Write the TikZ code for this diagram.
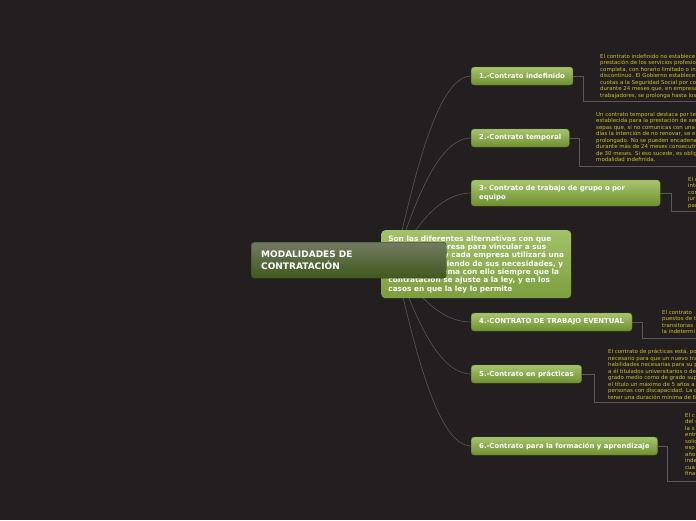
\documentclass[tikz,border=0pt]{standalone}
\usepackage{fontspec}
\setmainfont{DejaVu Sans}
\usepackage{tikz}
\usetikzlibrary{positioning, calc}
\definecolor{canvas}{HTML}{231F20}
\definecolor{wire}{HTML}{5C5854}
\definecolor{leaftop}{HTML}{A8C56E}
\definecolor{leafbot}{HTML}{6E902F}
\definecolor{roottop}{HTML}{737A62}
\definecolor{rootbot}{HTML}{3E591C}
\definecolor{notetop}{HTML}{A2C269}
\definecolor{notebot}{HTML}{7D9E3E}
\definecolor{notetext}{HTML}{CFC416}
\tikzset{
  root/.style={
    rounded corners=3pt,
    top color=roottop, bottom color=rootbot,
    draw=rootbot!80!black, line width=0.4pt,
    text=white, align=left, anchor=north west,
    minimum width=195, minimum height=36,
    text width=175, inner xsep=10, inner ysep=0,
    font=\fontsize{9}{12}\selectfont\bfseries
  },
  summary/.style={
    rounded corners=4pt,
    top color=notetop, bottom color=notebot,
    text=white, align=left, anchor=north west,
    minimum width=190, minimum height=68,
    inner xsep=5, inner ysep=4,
    font=\fontsize{7.35}{8.3}\selectfont\bfseries
  },
  leaf/.style={
    rounded corners=3pt,
    top color=leaftop, bottom color=leafbot,
    draw=leafbot!85!black, line width=0.4pt,
    text=white, align=left, anchor=west,
    minimum height=18, inner xsep=8, inner ysep=2,
    font=\fontsize{6.9}{9}\selectfont\bfseries
  },
  note/.style={
    text=notetext, align=left, anchor=north west,
    inner sep=0, font=\fontsize{5.45}{6.5}\selectfont
  },
  branch/.style={draw=wire, line width=0.6},
  link/.style={draw=wire, line width=0.6}
}

\begin{document}
\begin{tikzpicture}[x=1pt, y=-1pt]
  % Canvas
  \fill[canvas] (0,0) rectangle (696,520);
  \clip (0,0) rectangle (696,520);

  % Branches
  \node[leaf] (b1) at (471, 76) {1.-Contrato indefinido};
  \node[leaf, minimum height=26, text width=173] (b3) at (471, 193) {3- Contrato de trabajo de grupo o por\\equipo};
  \node[leaf] (b2) at (471, 138) {2.-Contrato temporal};
  \node[leaf] (b4) at (471, 322) {4.-CONTRATO DE TRABAJO EVENTUAL};
  \node[leaf] (b5) at (471, 374) {5.-Contrato en prácticas};
  \node[leaf] (b6) at (471, 446) {6.-Contrato para la formación y aprendizaje};

  % Curves from the centre
  \coordinate (hub) at (392, 262);
  \foreach \b in {b1, b2, b3, b4, b5, b6} {
    \draw[branch] (hub) .. controls ($(hub) + (8,0)$ |- \b.west) and ($(\b.west) + (-45,0)$) .. (\b.west);
  }

  % Notes
  \node[note] (n1) at (600, 54) {El contrato indefinido no establece\\
    prestación de los servicios profesionales\\
    completa, con horario limitado o in\\
    discontinuo. El Gobierno establece\\
    cuotas a la Seguridad Social por co\\
    durante 24 meses que, en empresas\\
    trabajadores, se prolonga hasta los};
  \node[note] (n2) at (596, 112) {Un contrato temporal destaca por te\\
    establecida para la prestación de ser\\
    sepas que, si no comunicas con una\\
    días la intención de no renovar, se e\\
    prolongado. No se pueden encadenar\\
    durante más de 24 meses consecutivos\\
    de 30 meses. Si eso sucede, es obligatorio\\
    modalidad indefinida.};
  \node[note] (n3) at (688, 177) {El c\\inte\\con\\jur\\par};
  \node[note] (n4) at (662, 310) {El contrato\\puestos de t\\transitorias\\la indetermi};
  \node[note] (n5) at (608, 349) {El contrato de prácticas está, po\\
    necesario para que un nuevo tra\\
    habilidades necesarias para su p\\
    a él titulados universitarios o de\\
    grado medio como de grado sup\\
    el título un máximo de 5 años a\\
    personas con discapacidad. La d\\
    tener una duración mínima de 6};
  \node[note] (n6) at (685, 413) {El c\\del c\\la s\\entr\\solic\\esp\\año\\inde\\cua\\fina};

  % Note links
  \coordinate (e1) at (700, 101);
  \coordinate (e2) at (700, 166);
  \coordinate (e3) at (700, 211);
  \coordinate (e4) at (700, 338);
  \coordinate (e5) at (700, 402);
  \coordinate (e6) at (700, 481);
  \draw[link] (b1.east) -- ++(10,0) |- (e1);
  \draw[link] (b2.east) -- ++(10,0) |- (e2);
  \draw[link] (b3.east) -- ++(11,0) |- (e3);
  \draw[link] (b4.east) -- ++(10,0) |- (e4);
  \draw[link] (b5.east) -- ++(12,0) |- (e5);
  \draw[link] (b6.east) -- ++(10,0) |- (e6);

  % Centre
  \node[summary] (sum) at (381, 230) {Son las diferentes alternativas con que\\
    cuenta la empresa para vincular a sus\\
    trabajadores y cada empresa utilizará una\\
    u otra dependiendo de sus necesidades, y\\
    el propio sistema con ello siempre que la\\
    contratacion se ajuste a la ley, y en los\\
    casos en que la ley lo permite};
  \node[root] (root) at (251, 242) {MODALIDADES DE\\CONTRATACIÓN};
\end{tikzpicture}
\end{document}
